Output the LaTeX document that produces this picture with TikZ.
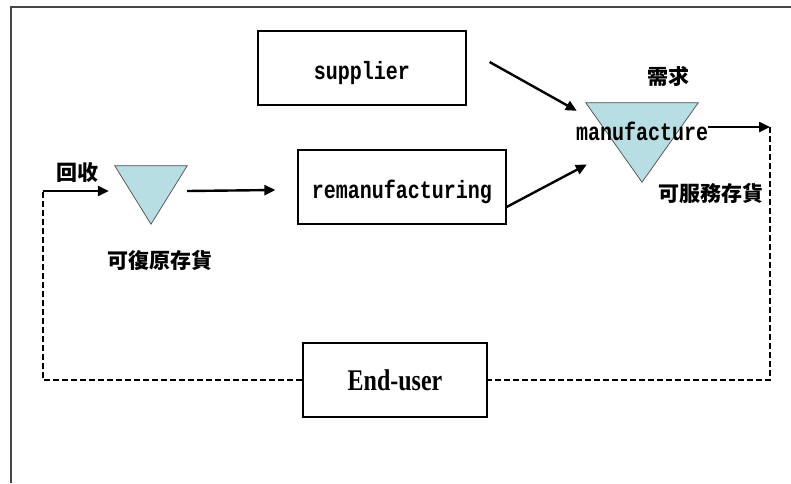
\documentclass[tikz,border=0pt]{standalone}
\usepackage{fontspec}
\usepackage{graphicx}
\setmainfont{Liberation Serif}
\setmonofont{Liberation Mono}
\newfontfamily\cjkfont{Noto Sans CJK TC}
\usetikzlibrary{arrows.meta,positioning,calc}
\definecolor{stockblue}{RGB}{183,222,226}
\definecolor{framegray}{RGB}{70,70,70}
\newcommand{\tallmono}[1]{\scalebox{1}[1.25]{#1}}

\begin{document}
\begin{tikzpicture}[x=1pt, y=-1pt,
    box/.style={draw, line width=1.2pt, inner sep=0pt, minimum width=208pt, minimum height=74pt,
                text height=27pt, text depth=4pt,
                font=\ttfamily\bfseries\fontsize{20}{24}\selectfont},
    stock/.style={fill=stockblue, draw=black!70, line width=0.7pt},
    flow/.style={line width=2.4pt, -{Triangle[length=11pt, width=10pt]}},
    back/.style={line width=1.6pt, dash pattern=on 6pt off 3pt},
    cn/.style={font=\cjkfont\bfseries\fontsize{21}{24}\selectfont, inner sep=0pt}]
    \useasboundingbox (0,0) rectangle (791,483);
    % outer frame (top and left only)
    \draw[framegray, line width=1.2pt] (11,483) -- (11,7) -- (791,7);

    % boxes
    \node[box] (supplier) at (362,68) {\tallmono{supplier}};
    \node[box] (reman) at (402,187) {\tallmono{remanufacturing}};
    \node[box, minimum width=184pt, text height=22pt, text depth=2pt,
          font=\rmfamily\bfseries\fontsize{30}{32}\selectfont]
        (enduser) at (395,380) {\scalebox{0.8}[1]{End-user}};

    % inventory triangles
    \node[inner sep=0pt, minimum width=72pt, minimum height=58pt] (rstock) at (151,195) {};
    \node[inner sep=0pt, minimum width=112pt, minimum height=79pt] (sstock) at (642,142.5) {};
    \draw[stock] (rstock.north west) -- (rstock.north east) -- (rstock.south) -- cycle;
    \draw[stock] (sstock.north west) -- (sstock.north east) -- (sstock.south) -- cycle;
    \node[inner sep=0pt, anchor=base, font=\ttfamily\bfseries\fontsize{20}{24}\selectfont]
        (manu) at (642,140) {\tallmono{manufacture}};

    % labels
    \node[cn] (demand) at (668,76) {需求};
    \node[cn] (servstock) at (711,193) {可服務存貨};
    \node[cn] (returns) at (77,173) {回收};
    \node[cn] (restorable) at (160,260) {可復原存貨};

    % return loop
    \coordinate (ret) at (43,191);
    \coordinate (out) at (770,127);
    \draw[back] (out) |- (enduser.east);
    \draw[back] (enduser.west) -| (ret);

    % material flows
    \draw[flow] (ret) -- ([xshift=-6pt, yshift=4pt]rstock.west);
    \draw[flow] ([yshift=4pt]rstock.east) -- ([xshift=-22pt, yshift=-3pt]reman.west);
    \draw[flow] ([xshift=23pt, yshift=6pt]supplier.east) -- ([xshift=-9pt, yshift=-8pt]sstock.north west);
    \draw[flow] ([yshift=-20pt]reman.east) -- ([xshift=1pt, yshift=-22pt]sstock.west);
    \draw[flow] (manu.east |- out) -- (out);
\end{tikzpicture}
\end{document}
